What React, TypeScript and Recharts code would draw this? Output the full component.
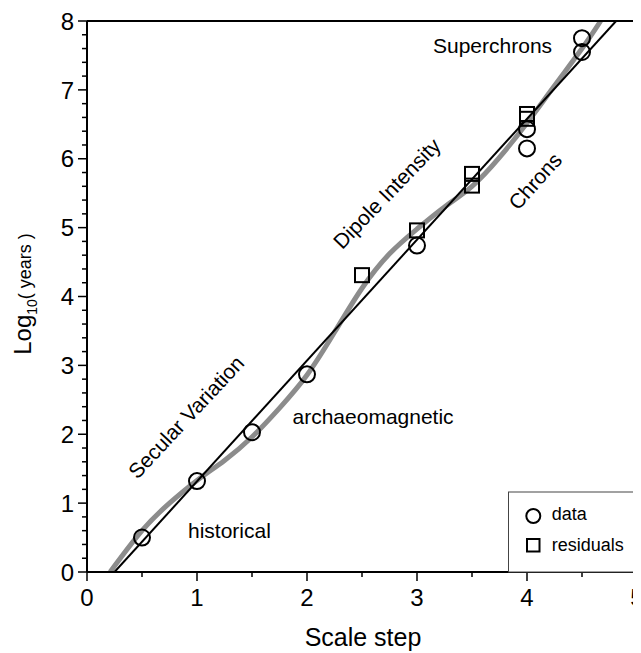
import React from "react";
import { ComposedChart, Line, Scatter, XAxis, YAxis } from "recharts";

const xTicks = [0, 0.5, 1, 1.5, 2, 2.5, 3, 3.5, 4, 4.5, 5];
const yTicks = [
  0, 0.2, 0.4, 0.6, 0.8, 1, 1.2, 1.4, 1.6, 1.8, 2, 2.2, 2.4, 2.6, 2.8, 3, 3.2, 3.4, 3.6, 3.8, 4,
  4.2, 4.4, 4.6, 4.8, 5, 5.2, 5.4, 5.6, 5.8, 6, 6.2, 6.4, 6.6, 6.8, 7, 7.2, 7.4, 7.6, 7.8, 8,
];

// circles
const dataX = [0.5, 1, 1.5, 2, 3, 4, 4, 4.5, 4.5];
const dataY = [0.5, 1.32, 2.03, 2.87, 4.74, 6.43, 6.15, 7.55, 7.75];

// squares
const residX = [2.5, 3, 3.5, 3.5, 4, 4];
const residY = [4.31, 4.96, 5.78, 5.61, 6.65, 6.58];

// straight fit (black)
const fitX = [0.25, 4.81];
const fitY = [0, 8];

// smooth fit (grey)
const smoothX = [0.21, 0.5, 0.75, 1, 1.25, 1.5, 1.75, 2, 2.25, 2.5, 2.75, 3, 3.25, 3.5, 3.75, 4, 4.25, 4.5, 4.67];
const smoothY = [0, 0.6, 1.0, 1.33, 1.62, 1.96, 2.38, 2.86, 3.48, 4.12, 4.62, 4.98, 5.3, 5.6, 6.02, 6.52, 7.06, 7.6, 8];

const zip = (xs: number[], ys: number[]) => xs.map((x, i) => ({ x, y: ys[i] }));

const FONT = "'Liberation Sans', Arial, Helvetica, sans-serif";
const W = 633;
const H = 645;

const AxisTick = (props: any) => {
  const { x, y, payload, side } = props;
  const v = payload.value;
  const major = Number.isInteger(v);
  const len = major ? 9 : 5;
  const line = { stroke: "#000", strokeWidth: 1.5 };
  if (side === "bottom") {
    return (
      <g>
        <line x1={x} y1={y} x2={x} y2={y + len} {...line} />
        {major && (
          <text x={x} y={y + 34} textAnchor="middle" fontSize={24} fontFamily={FONT} fill="#000">
            {v}
          </text>
        )}
      </g>
    );
  }
  if (side === "top") return <line x1={x} y1={y} x2={x} y2={y - len} {...line} />;
  if (side === "right") return <line x1={x} y1={y} x2={x + len} y2={y} {...line} />;
  return (
    <g>
      <line x1={x} y1={y} x2={x - len} y2={y} {...line} />
      {major && (
        <text x={x - 13} y={y} dy="0.36em" textAnchor="end" fontSize={24} fontFamily={FONT} fill="#000">
          {v}
        </text>
      )}
    </g>
  );
};

const Ring = (p: any) => <circle cx={p.cx} cy={p.cy} r={8} fill="none" stroke="#000" strokeWidth={2} />;
const Box = (p: any) => <rect x={p.cx - 7} y={p.cy - 7} width={14} height={14} fill="none" stroke="#000" strokeWidth={2} />;

const axisLine = { stroke: "#000", strokeWidth: 2 };

const App = () => {
  return (
    <div style={{ position: "relative", width: W, height: H }}>
      <ComposedChart width={W} height={H} margin={{ top: 12, right: 3, bottom: 80, left: 78 }}>
        <XAxis
          dataKey="x"
          type="number"
          domain={[0, 5]}
          ticks={xTicks}
          interval={0}
          height={1}
          tickSize={0}
          tickMargin={0}
          axisLine={axisLine}
          tick={(p: any) => <AxisTick {...p} side="bottom" />}
          allowDataOverflow
        />
        <XAxis
          xAxisId="top"
          orientation="top"
          type="number"
          domain={[0, 5]}
          ticks={xTicks}
          interval={0}
          height={1}
          tickSize={0}
          tickMargin={0}
          axisLine={axisLine}
          tick={(p: any) => <AxisTick {...p} side="top" />}
          allowDataOverflow
        />
        <YAxis
          type="number"
          domain={[0, 8]}
          ticks={yTicks}
          interval={0}
          width={1}
          tickSize={0}
          tickMargin={0}
          axisLine={axisLine}
          tick={(p: any) => <AxisTick {...p} side="left" />}
          allowDataOverflow
        />
        <YAxis
          yAxisId="right"
          orientation="right"
          type="number"
          domain={[0, 8]}
          ticks={yTicks}
          interval={0}
          width={1}
          tickSize={0}
          tickMargin={0}
          axisLine={axisLine}
          tick={(p: any) => <AxisTick {...p} side="right" />}
          allowDataOverflow
        />
        <Line
          data={zip(smoothX, smoothY)}
          dataKey="y"
          type="natural"
          stroke="#8c8c8c"
          strokeWidth={5}
          dot={false}
          activeDot={false}
          isAnimationActive={false}
        />
        <Line
          data={zip(fitX, fitY)}
          dataKey="y"
          type="linear"
          stroke="#000"
          strokeWidth={2}
          dot={false}
          activeDot={false}
          isAnimationActive={false}
        />
        <Scatter data={zip(dataX, dataY)} dataKey="y" shape={Ring} isAnimationActive={false} />
        <Scatter data={zip(residX, residY)} dataKey="y" shape={Box} isAnimationActive={false} />
      </ComposedChart>
      <svg
        width={W}
        height={H}
        style={{ position: "absolute", left: 0, top: 0, pointerEvents: "none" }}
        fontFamily={FONT}
      >
        <text x={23} y={286} transform="rotate(-90 23 286)" textAnchor="middle" fill="#000">
          <tspan fontSize={24}>Log</tspan>
          <tspan fontSize={14} dy={6}>10</tspan>
          <tspan fontSize={18} dy={-6}>( years )</tspan>
        </text>
        <text x={355} y={638} textAnchor="middle" fontSize={25} fill="#000">
          Scale step
        </text>
        <g fontSize={21} fill="#000">
          <text x={180} y={530}>historical</text>
          <text x={284.5} y={416}>archaeomagnetic</text>
          <text x={425} y={44.5}>Superchrons</text>
          <text x={178} y={409} textAnchor="middle" dominantBaseline="central" transform="rotate(-47 178 409)">
            Secular Variation
          </text>
          <text x={378.7} y={185.3} textAnchor="middle" dominantBaseline="central" transform="rotate(-46 378.7 185.3)">
            Dipole Intensity
          </text>
          <text x={527} y={173} textAnchor="middle" dominantBaseline="central" transform="rotate(-48 527 173)">
            Chrons
          </text>
        </g>
        <rect x={500.5} y={484} width={128.5} height={80} fill="#fff" stroke="#444" strokeWidth={1} />
        <circle cx={525.3} cy={508} r={7} fill="none" stroke="#000" strokeWidth={2} />
        <rect x={519} y={531} width={12.5} height={12.5} fill="none" stroke="#000" strokeWidth={2} />
        <g fontSize={18} fill="#000">
          <text x={543.7} y={512}>data</text>
          <text x={543.7} y={543}>residuals</text>
        </g>
      </svg>
    </div>
  );
};

export default App;
